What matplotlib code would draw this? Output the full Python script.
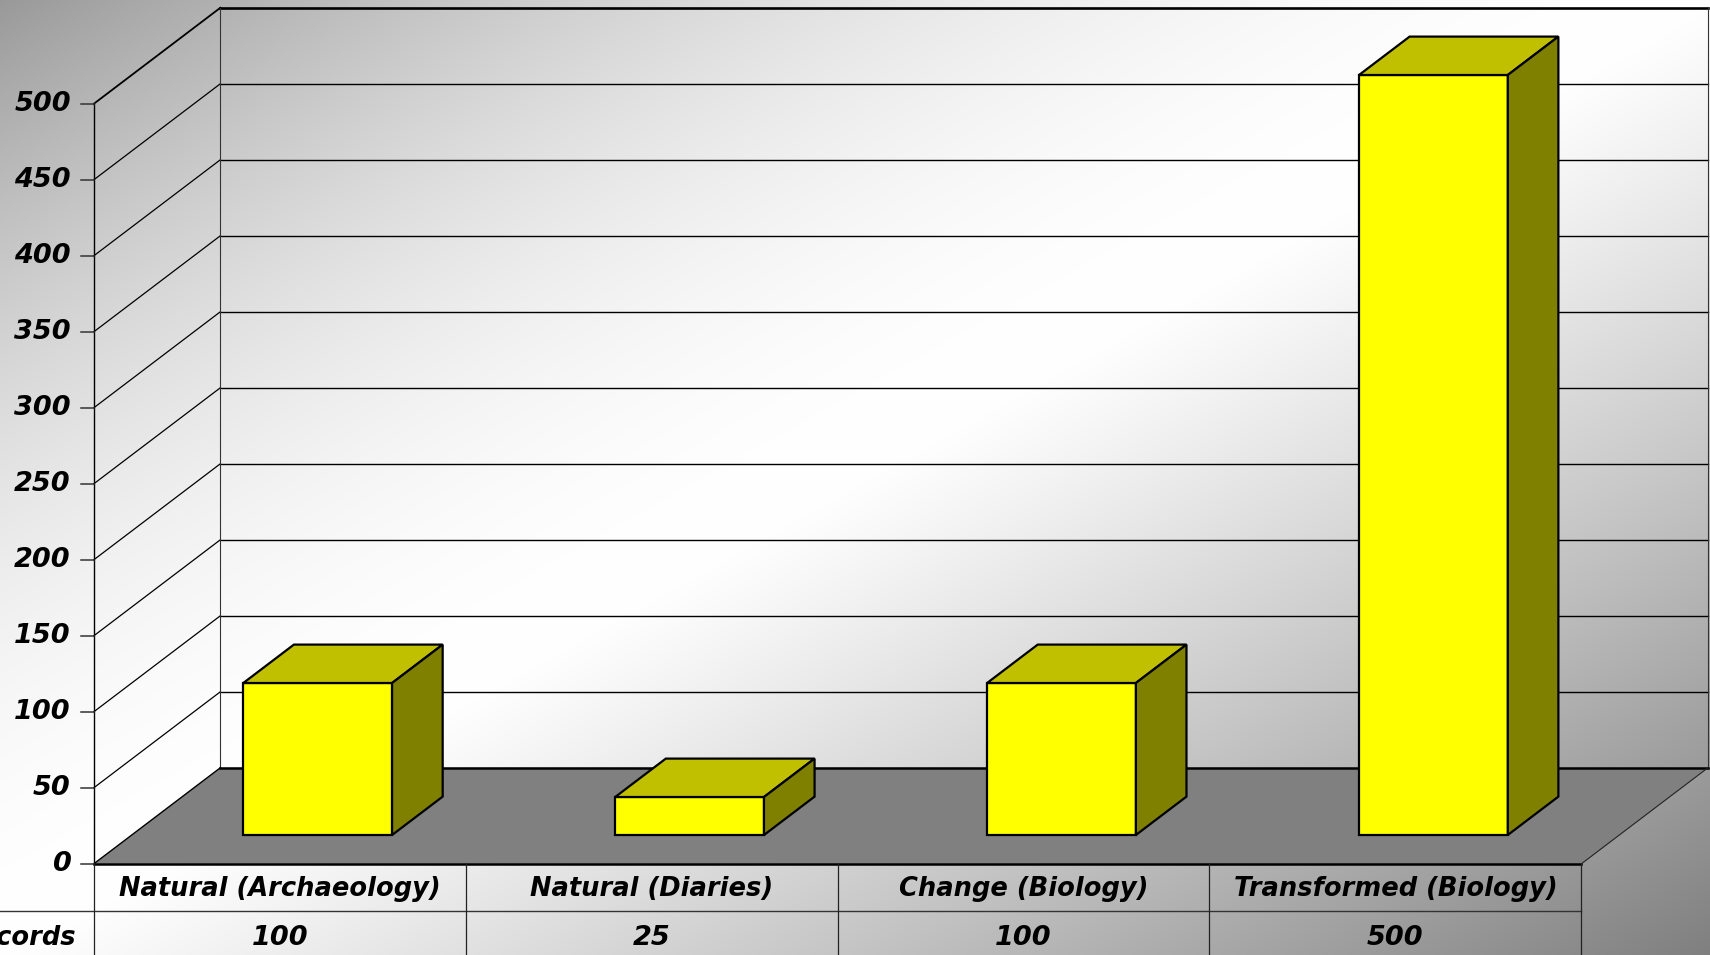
import numpy as np
import matplotlib.pyplot as plt
from matplotlib.patches import Polygon

categories = ["Natural (Archaeology)", "Natural (Diaries)", "Change (Biology)", "Transformed (Biology)"]
records = [100, 25, 100, 500]
series_name = "Records"
y_ticks = [0, 50, 100, 150, 200, 250, 300, 350, 400, 450, 500]

W, H = 1710, 955
fig = plt.figure(figsize=(W / 100, H / 100), dpi=100)
ax = fig.add_axes([0, 0, 1, 1])

# pixel layout of the chart box
ox, oy = 93.8, 863.8      # front origin (value 0, left edge)
cat_px = 371.9            # one category width
val_px = 1.52             # one value unit
depth_dx, depth_dy = 126.5, 96.0

x_lo = -ox / cat_px
x_hi = (W - ox) / cat_px
y_lo = -(H - oy) / val_px
y_hi = oy / val_px
ax.set_xlim(x_lo, x_hi)
ax.set_ylim(y_lo, y_hi)
ax.axis("off")

DX = depth_dx / cat_px
DY = depth_dy / val_px
n = len(categories)
vmax = y_ticks[-1]


def P(x, v, z):
    return (x + z * DX, v + z * DY)


# diagonal grey-white-grey background
u = np.linspace(0, 1, W)[None, :]
w = np.linspace(0, 1, H)[:, None]
t = (u + w) / 2
d = np.abs(t - 0.5) / 0.5
lev = np.where(t < 0.5, 1 - 0.40 * d ** 1.9, 1 - 0.50 * d ** 1.1)
img = np.dstack([lev, lev, lev])
ax.imshow(img, extent=[x_lo, x_hi, y_lo, y_hi], origin="upper", aspect="auto", zorder=0)

# floor
floor = [P(0, 0, 0), P(n, 0, 0), P(n, 0, 1), P(0, 0, 1)]
ax.add_patch(Polygon(floor, closed=True, facecolor="#808080", edgecolor="none", zorder=1))
ax.plot(*zip(P(0, 0, 1), P(n, 0, 1)), color="black", lw=1.8, zorder=3)
ax.plot(*zip(P(0, 0, 0), P(n, 0, 0)), color="black", lw=1.8, zorder=3)
ax.plot(*zip(P(n, 0, 0), P(n, 0, 1)), color="#222222", lw=0.8, zorder=3)
ax.plot(*zip(P(0, 0, 0), P(0, 0, 1)), color="black", lw=1.0, zorder=3)

# back wall and left wall gridlines
for v in y_ticks[1:-1]:
    ax.plot(*zip(P(0, v, 1), P(n, v, 1)), color="black", lw=1.0, zorder=2)
    ax.plot(*zip(P(0, v, 0), P(0, v, 1)), color="black", lw=0.9, zorder=2)
ax.plot(*zip(P(0, vmax, 1), P(n, vmax, 1)), color="black", lw=1.9, zorder=2)
ax.plot(*zip(P(0, vmax, 0), P(0, vmax, 1)), color="black", lw=1.3, zorder=2)
ax.plot(*zip(P(0, 0, 1), P(0, vmax, 1)), color="#333333", lw=0.8, zorder=2)
ax.plot(*zip(P(n, 0, 1), P(n, vmax, 1)), color="#333333", lw=0.8, zorder=2)

# value axis
ax.plot([0, 0], [0, vmax], color="black", lw=1.0, zorder=3)
tick_len = 13 / cat_px
font = dict(family="DejaVu Sans", weight="bold", style="italic", size=18.5)
tick_font = dict(font, size=19.5)
for v in y_ticks:
    ax.plot([-tick_len, 0], [v, v], color="#333333", lw=1.1, zorder=3)
    ax.text(-23 / cat_px, v, str(v), ha="right", va="center", zorder=4, **tick_font)

# bars
bw, z0, z1 = 0.4, 0.3, 0.7
for i, val in enumerate(records):
    a = i + 0.5 - bw / 2
    b = i + 0.5 + bw / 2
    front = [P(a, 0, z0), P(b, 0, z0), P(b, val, z0), P(a, val, z0)]
    top = [P(a, val, z0), P(b, val, z0), P(b, val, z1), P(a, val, z1)]
    side = [P(b, 0, z0), P(b, 0, z1), P(b, val, z1), P(b, val, z0)]
    for pts, col in [(front, "#FFFF00"), (top, "#C0C000"), (side, "#808000")]:
        ax.add_patch(Polygon(pts, closed=True, facecolor=col, edgecolor="black",
                             lw=1.6, joinstyle="miter", zorder=5))

# data table under the floor
row_line = -(910.7 - oy) / val_px
ax.plot([x_lo, n], [row_line, row_line], color="#333333", lw=1.0, zorder=3)
for k in range(n + 1):
    ax.plot([k, k], [0, y_lo], color="#222222", lw=0.9, zorder=3)

row1_y = -(888.8 - oy) / val_px
row2_y = -(938.0 - oy) / val_px
for i, (c, val) in enumerate(zip(categories, records)):
    ax.text(i + 0.5, row1_y, c, ha="center", va="center", zorder=4, **font)
    ax.text(i + 0.5, row2_y, str(val), ha="center", va="center", zorder=4, **tick_font)
ax.text(-18 / cat_px, row2_y, series_name, ha="right", va="center", zorder=4, **font)

fig.savefig("out.png", dpi=100)
